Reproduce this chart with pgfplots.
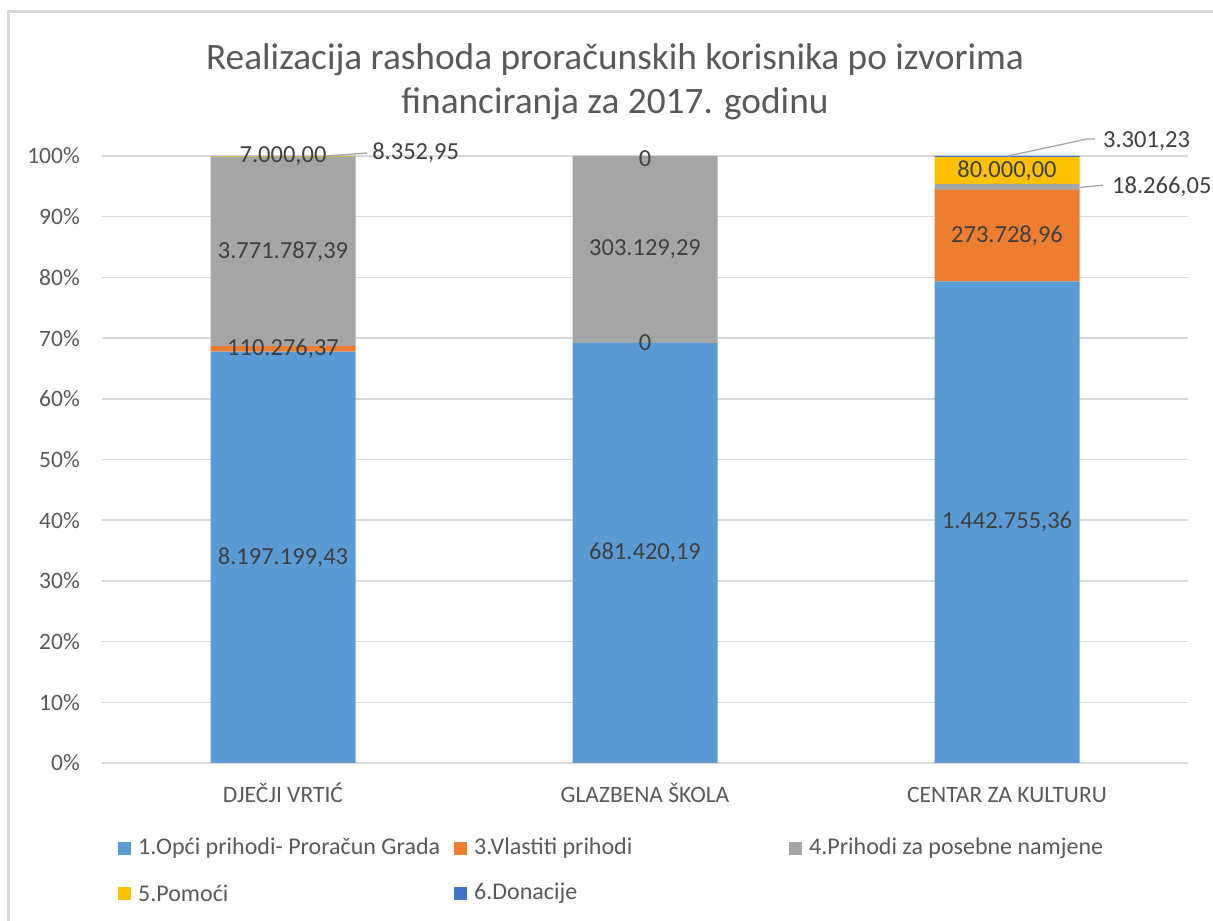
\documentclass[border=0pt]{standalone}
\usepackage{fontspec}
\setmainfont{Carlito}
\usepackage{pgfplots}
\usepackage{pgfplotstable}
\pgfplotsset{compat=1.18}
\definecolor{cBlue}{HTML}{5B9BD5}
\definecolor{cOrange}{HTML}{ED7D31}
\definecolor{cGray}{HTML}{A5A5A5}
\definecolor{cYellow}{HTML}{FFC000}
\definecolor{cDon}{HTML}{4472C4}
\definecolor{txt}{HTML}{595959}
\definecolor{lbl}{HTML}{404040}
\definecolor{gridc}{HTML}{D9D9D9}
\definecolor{leader}{HTML}{A6A6A6}

% y = share (%) of the institution's total, lab = amount
\pgfplotstableread{
x y lab
0 67.7756 8.197.199,43
1 69.2114 681.420,19
2 79.3572 1.442.755,36
}\opci
\pgfplotstableread{
x y lab
0 0.9118 110.276,37
1 0 {}
2 15.0562 273.728,96
}\vlastiti
\pgfplotstableread{
x y lab
0 31.1857 3.771.787,39
1 30.7886 303.129,29
2 1.0047 {}
}\posebne
\pgfplotstableread{
x y lab
0 0.0579 7.000,00
1 0 {}
2 4.4003 80.000,00
}\pomoci
\pgfplotstableread{
x y lab
0 0.0691 {}
1 0 {}
2 0.1816 {}
}\donacije

\begin{document}
\begin{tikzpicture}[font=\fontsize{24}{29}\selectfont]
\path[use as bounding box] (0,0) rectangle (1213pt,921pt);
\draw[gridc, line width=3pt] (8.5pt,0) -- (8.5pt,909.5pt) -- (1213pt,909.5pt);
\node[font=\fontsize{37.3}{44}\selectfont, align=center, text=txt] at (615pt,839pt)
  {Realizacija rashoda proračunskih korisnika po izvorima\\financiranja za 2017. godinu};
\begin{axis}[
  at={(102pt,158pt)}, anchor=south west,
  scale only axis, width=1086pt, height=607pt,
  xmin=-0.5, xmax=2.5, ymin=0, ymax=100,
  ybar stacked, bar width=145pt,
  clip=false,
  axis y line*=left, y axis line style={draw=none},
  axis x line*=bottom, x axis line style={gridc, line width=1.5pt, -},
  major tick length=0pt,
  xtick={0,1,2},
  xticklabels={DJEČJI VRTIĆ, GLAZBENA ŠKOLA, CENTAR ZA KULTURU},
  ytick={0,10,...,100},
  yticklabels={0\%,10\%,20\%,30\%,40\%,50\%,60\%,70\%,80\%,90\%,100\%},
  ymajorgrids, grid style={gridc, line width=1.5pt},
  tick label style={text=txt, font=\fontsize{23.5}{28}\selectfont},
  yticklabel style={anchor=east, inner sep=0pt, xshift=-22pt},
  xticklabel style={anchor=base, inner sep=0pt, yshift=-40pt},
  nodes near coords,
  point meta=explicit symbolic,
  every node near coord/.append style={anchor=center, inner sep=0pt, text=lbl,
     font=\fontsize{24.5}{29}\selectfont},
]
\addplot[fill=cBlue, draw=none] table[x=x, y=y, meta=lab] {\opci};
\addplot[fill=cOrange, draw=none] table[x=x, y=y, meta=lab] {\vlastiti};
\addplot[fill=cGray, draw=none] table[x=x, y=y, meta=lab] {\posebne};
\addplot[fill=cYellow, draw=none] table[x=x, y=y, meta=lab] {\pomoci};
\addplot[fill=cDon, draw=none] table[x=x, y=y, meta=lab] {\donacije};
% anchor points for the labels drawn on top after the axis
\coordinate (z1) at (axis cs:1,69.2114);
\coordinate (z2) at (axis cs:1,99.6);
\coordinate (a1) at (axis cs:0.1188,100.0);
\coordinate (a2) at (axis cs:0.232,100.49);
\coordinate (a3) at (axis cs:0.246,100.49);
\coordinate (b1) at (axis cs:2.0028,100);
\coordinate (b2) at (axis cs:2.221,102.8);
\coordinate (b3) at (axis cs:2.243,102.8);
\coordinate (b4) at (axis cs:2.265,102.5);
\coordinate (c1) at (axis cs:2.2003,94.8);
\coordinate (c2) at (axis cs:2.265,95.2);
\coordinate (c3) at (axis cs:2.29,94.9);
\end{axis}
\begin{scope}[every node/.style={inner sep=0pt, text=lbl, font=\fontsize{24.5}{29}\selectfont}]
% zero-valued entries of GLAZBENA ŠKOLA
\node at (z1) {0};
\node at (z2) {0};
% labels placed outside the bars, with leader lines
\draw[leader, line width=1.3pt] (a1) -- (a2);
\node[anchor=west] at (a3) {8.352,95};
\draw[leader, line width=1.3pt] (b1) -- (b2) -- (b3);
\node[anchor=west] at (b4) {3.301,23};
\draw[leader, line width=1.3pt] (c1) -- (c2);
\node[anchor=west] at (c3) {18.266,05};
\end{scope}
% legend
\begin{scope}[every node/.style={anchor=west, inner sep=0pt, text=txt}]
\fill[cBlue]   (118pt,66pt) rectangle (131pt,79pt);   \node at (138pt,72.5pt) {1.Opći prihodi- Proračun Grada};
\fill[cOrange] (454pt,66pt) rectangle (467pt,79pt);   \node at (474pt,72.5pt) {3.Vlastiti prihodi};
\fill[cGray]   (789pt,66pt) rectangle (802pt,79pt);   \node at (809pt,72.5pt) {4.Prihodi za posebne namjene};
\fill[cYellow] (118pt,21pt) rectangle (131pt,34pt);   \node at (138pt,27.5pt) {5.Pomoći};
\fill[cDon]    (454pt,21pt) rectangle (467pt,34pt);   \node at (474pt,27.5pt) {6.Donacije};
\end{scope}
\end{tikzpicture}
\end{document}
